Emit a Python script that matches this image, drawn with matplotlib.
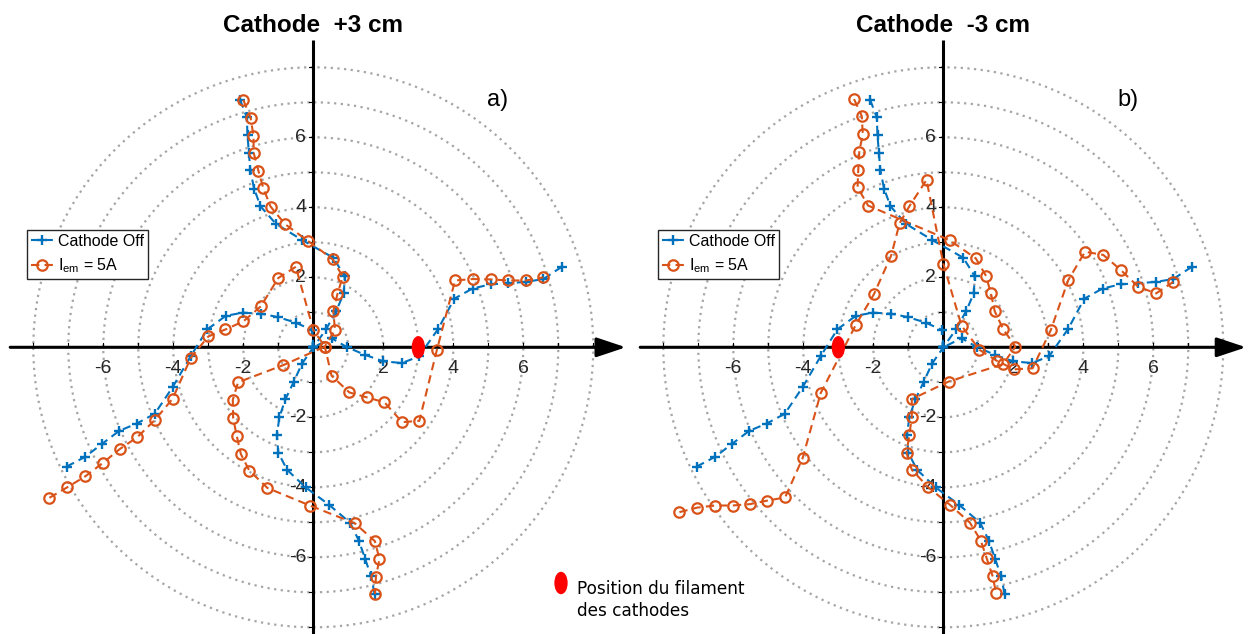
import numpy as np
import matplotlib
matplotlib.use('Agg')
import matplotlib.pyplot as plt
from matplotlib.patches import Ellipse, Circle

plt.rcParams['font.family'] = ['Liberation Sans', 'DejaVu Sans']
plt.rcParams['mathtext.fontset'] = 'custom'
plt.rcParams['mathtext.rm'] = 'Liberation Sans'

# ---------------- data (cm) ----------------
# Cathode Off (same measurement in both panels), one list per arm
off_top = [(-2.09, 7.07), (-1.90, 6.57), (-1.88, 6.06), (-1.84, 5.55), (-1.80, 5.06),
           (-1.69, 4.53), (-1.51, 4.03), (-1.07, 3.53), (-0.31, 3.06), (0.57, 2.56),
           (0.90, 2.03), (0.87, 1.54), (0.66, 1.05), (0.37, 0.52), (0.0, 0.0)]
off_left = [(-7.05, -3.41), (-6.52, -3.13), (-6.05, -2.77), (-5.55, -2.39), (-5.05, -2.18),
            (-4.53, -1.90), (-4.02, -1.14), (-3.50, -0.25), (-3.03, 0.51), (-2.50, 0.90),
            (-2.01, 0.99), (-1.49, 0.96), (-1.00, 0.86), (-0.49, 0.70), (-0.03, 0.49), (0.0, 0.0)]
off_right = [(7.10, 2.30), (6.57, 1.95), (6.08, 1.87), (5.57, 1.83), (5.07, 1.80),
             (4.55, 1.68), (4.03, 1.39), (3.57, 0.53), (3.02, -0.26), (2.53, -0.45),
             (2.00, -0.40), (1.49, -0.22), (0.97, 0.0), (0.52, 0.26), (0.0, 0.0)]
off_bottom = [(1.75, -7.04), (1.65, -6.54), (1.48, -6.04), (1.30, -5.52), (1.05, -5.01),
              (0.45, -4.50), (-0.22, -4.00), (-0.75, -3.50), (-1.00, -3.01), (-1.04, -2.51),
              (-0.97, -2.00), (-0.80, -1.49), (-0.56, -0.99), (-0.33, -0.48), (0.0, 0.0)]

# I_em = 5A, cathode at +3 cm
on_a_1 = [(-2.00, 7.07), (-1.79, 6.55), (-1.71, 6.05), (-1.70, 5.54), (-1.57, 5.05),
          (-1.43, 4.55), (-1.22, 4.02), (-0.81, 3.52), (-0.14, 3.03), (0.55, 2.52),
          (0.84, 2.02), (0.69, 1.52), (0.57, 1.03), (0.62, 0.50), (0.33, 0.02),
          (0.52, -0.81), (1.03, -1.29), (1.53, -1.43), (2.03, -1.57), (2.54, -2.14),
          (3.03, -2.10), (3.53, -0.08), (4.05, 1.91), (4.55, 1.95), (5.07, 1.94),
          (5.57, 1.91), (6.08, 1.91), (6.57, 2.00)]
on_a_2 = [(-7.54, -4.30), (-7.03, -4.00), (-6.52, -3.69), (-6.02, -3.31), (-5.52, -2.90),
          (-5.03, -2.57), (-4.52, -2.07), (-4.02, -1.47), (-3.50, -0.30), (-3.00, 0.31),
          (-2.51, 0.51), (-2.00, 0.74), (-1.50, 1.17), (-1.00, 1.98), (-0.50, 2.30),
          (0.00, 0.50), (0.33, 0.02), (-0.86, -0.51), (-2.15, -1.00), (-2.30, -1.50),
          (-2.29, -2.02), (-2.19, -2.52), (-2.07, -3.05), (-1.83, -3.52), (-1.31, -4.02),
          (-0.10, -4.52), (1.19, -5.03), (1.76, -5.54), (1.89, -6.05), (1.79, -6.55),
          (1.76, -7.05)]

# I_em = 5A, cathode at -3 cm
on_b_1 = [(-2.55, 7.09), (-2.33, 6.61), (-2.30, 6.09), (-2.40, 5.59), (-2.43, 5.07),
          (-2.45, 4.57), (-2.15, 4.05), (0.18, 3.06), (0.93, 2.54), (1.22, 2.04),
          (1.36, 1.54), (1.47, 1.03), (1.71, 0.52), (2.06, 0.02), (1.71, -0.48),
          (0.15, -0.98), (-0.90, -1.48), (-0.90, -1.99), (-0.97, -2.51), (-1.05, -3.01),
          (-0.90, -3.50), (-0.43, -4.00), (0.19, -4.50), (0.76, -5.01), (1.07, -5.52),
          (1.24, -6.03), (1.41, -6.54), (1.51, -7.03)]
on_b_2 = [(-7.54, -4.71), (-7.03, -4.58), (-6.52, -4.52), (-6.02, -4.52), (-5.52, -4.48),
          (-5.03, -4.38), (-4.52, -4.29), (-4.02, -3.17), (-3.50, -1.30), (-2.50, 0.64),
          (-1.98, 1.52), (-1.49, 2.62), (-1.25, 3.54), (-0.97, 4.03), (-0.48, 4.78),
          (0.00, 2.39), (0.52, 0.62), (1.03, -0.07), (1.52, -0.38), (2.02, -0.63),
          (2.55, -0.60), (3.07, 0.49), (3.57, 1.92), (4.05, 2.73), (4.57, 2.64),
          (5.07, 2.21), (5.57, 1.73), (6.08, 1.54), (6.57, 1.87)]

panel_titles = ['Cathode  +3 cm', 'Cathode  -3 cm']
panel_tags = ['a)', 'b)']
filament_x = [3.0, -3.0]
tick_vals = [-6, -4, -2, 2, 4, 6]
radii = [1, 2, 3, 4, 5, 6, 7, 8]

BLUE = '#0072BD'
ORANGE = '#D95319'
PX = 35.0  # pixels per cm

fig = plt.figure(figsize=(12.48, 6.34), dpi=100)


def make_axes(left_px, right_px, x0_px):
    ax = fig.add_axes([left_px / 1248, 0, (right_px - left_px) / 1248, 1])
    ax.set_xlim((left_px - x0_px) / PX, (right_px - x0_px) / PX)
    ax.set_ylim((347.3 - 634) / PX, 347.3 / PX)
    ax.axis('off')
    return ax


def draw_panel(ax, on_lines, title, tag, fil_x, leg_px, tip):
    for r in radii:
        ax.add_patch(Circle((0, 0), r, fill=False, ls=(0, (1, 2)), lw=1.6,
                            color='#A5A5A5', zorder=1))
    # axes through origin
    ax.plot([0, 0], [-8.4, 8.78], color='k', lw=2.2, zorder=2, solid_capstyle='butt')
    ax.annotate('', xy=(tip, 0), xytext=(-8.66, 0), annotation_clip=False,
                arrowprops=dict(arrowstyle='-|>,head_length=0.9,head_width=0.3',
                                mutation_scale=20, lw=2.2, color='k',
                                shrinkA=0, shrinkB=0), zorder=2)
    for v in range(-8, 9):
        if v == 0:
            continue
        ax.plot([v, v], [0, 0.12], color='k', lw=0.8, zorder=2)
        ax.plot([-0.12, 0], [v, v], color='k', lw=0.8, zorder=2)
    for v in tick_vals:
        ax.text(v, -0.6, str(v), ha='center', va='center', fontsize=14, color='#262626')
        ax.text(-0.2, v, str(v), ha='right', va='center', fontsize=14, color='#262626')

    for i, arm in enumerate([off_top, off_left, off_right, off_bottom]):
        xy = np.array(arm)
        ax.plot(xy[:, 0], xy[:, 1], ls=(0, (4, 2.5)), lw=1.5, color=BLUE,
                marker='+', ms=7.5, mew=1.7, zorder=4,
                label='Cathode Off' if i == 0 else None)
    for i, line in enumerate(on_lines):
        xy = np.array(line)
        ax.plot(xy[:, 0], xy[:, 1], ls=(0, (4, 2.5)), lw=1.5, color=ORANGE,
                marker='o', ms=7.5, mew=1.6, mfc='none', zorder=5,
                label='I$_{\\mathrm{em}}$ = 5A' if i == 0 else None)

    # filament position
    ax.add_patch(Ellipse((fil_x, 0), 0.34, 0.6, color='#FF0000', zorder=6))

    ax.text(0, (347.3 - 25) / PX, title, ha='center', va='center', fontsize=17.5,
            fontweight='bold')
    ax.text((498 - 313.3) / PX, (347.3 - 100) / PX, tag, ha='center', va='center',
            fontsize=17)
    ax.legend(loc='upper left', bbox_to_anchor=(leg_px / 1248, 1 - 230 / 634),
              bbox_transform=fig.transFigure, fontsize=11.5, frameon=True,
              fancybox=False, edgecolor='#262626', framealpha=1, borderpad=0.25,
              handlelength=1.35, handletextpad=0.35, labelspacing=0.45,
              borderaxespad=0)


ax_a = make_axes(0, 626, 313.3)
ax_b = make_axes(630, 1248, 943.3)
draw_panel(ax_a, [on_a_1, on_a_2], panel_titles[0], panel_tags[0], filament_x[0], 27, 8.93)
draw_panel(ax_b, [on_b_1, on_b_2], panel_titles[1], panel_tags[1], filament_x[1], 658, 8.65)

# filament position key
ax_a.add_patch(Ellipse(((561 - 313.3) / PX, (347.3 - 583) / PX), 0.34, 0.6,
                       color='#FF0000', clip_on=False, zorder=6))
fig.text(577 / 1248, 1 - 600 / 634, 'Position du filament\ndes cathodes',
         ha='left', va='center', fontsize=12.2, family='DejaVu Sans',
         linespacing=1.25)

fig.savefig('out.png', dpi=100)
